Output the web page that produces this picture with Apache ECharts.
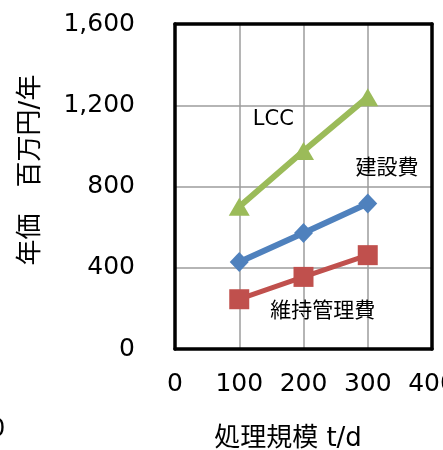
<!DOCTYPE html>
<html>
<head>
<meta charset="utf-8">
<script src="https://cdn.jsdelivr.net/npm/echarts@6/dist/echarts.min.js"></script>
<style>html,body{margin:0;padding:0;background:#fff;}#c{width:443px;height:450px;}</style>
</head>
<body>
<div id="c"></div>
<script>
// data
var scale = [100, 200, 300];                 // 処理規模 t/d
var lcc = [700, 975, 1240];                  // LCC
var construction = [428, 571, 716];          // 建設費
var maintenance = [245, 355, 462];           // 維持管理費
var xTicks = [0, 100, 200, 300, 400];
var yTicks = [0, 400, 800, 1200, 1600];
var seriesNames = ['LCC', '建設費', '維持管理費'];
var xTitle = '処理規模 t/d';
var yTitle = '年価　百万円/年';
var annotations = [
  {text: 'LCC', x: 153, y: 1132},
  {text: '建設費', x: 330, y: 890},
  {text: '維持管理費', x: 230, y: 182}
];

var FONT = "'DejaVu Sans', 'Noto Sans CJK JP', sans-serif";
function pairs(xs, ys) { return xs.map(function (x, i) { return [x, ys[i]]; }); }

var chart = echarts.init(document.getElementById('c'), null, {renderer: 'canvas'});
var borderLine = {show: true, onZero: false, lineStyle: {color: '#000', width: 3.5}};
var option = {
  animation: false,
  backgroundColor: '#fff',
  grid: {left: 175, right: 11, top: 24, bottom: 101, containLabel: false, outerBoundsMode: 'none'},
  xAxis: [{
    type: 'value', min: xTicks[0], max: xTicks[xTicks.length - 1], interval: 100,
    axisLine: borderLine, axisTick: {show: false},
    axisLabel: {color: '#000', fontSize: 25, fontFamily: FONT, margin: 23},
    splitLine: {show: true, lineStyle: {color: '#9d9d9d', width: 1.5}}
  }, {
    type: 'value', position: 'top', min: xTicks[0], max: xTicks[xTicks.length - 1], interval: 100,
    axisLine: borderLine, axisTick: {show: false}, axisLabel: {show: false}, splitLine: {show: false}, z: 5
  }],
  yAxis: [{
    type: 'value', min: yTicks[0], max: yTicks[yTicks.length - 1], interval: 400,
    axisLine: borderLine, axisTick: {show: false},
    axisLabel: {color: '#000', fontSize: 25, fontFamily: FONT, margin: 40,
      formatter: function (v) { return v.toLocaleString('en-US'); }},
    splitLine: {show: true, lineStyle: {color: '#9d9d9d', width: 1.5}}
  }, {
    type: 'value', position: 'right', min: yTicks[0], max: yTicks[yTicks.length - 1], interval: 400,
    axisLine: borderLine, axisTick: {show: false}, axisLabel: {show: false}, splitLine: {show: false}, z: 5
  }],
  series: [{
    name: seriesNames[0], type: 'line', data: pairs(scale, lcc),
    symbol: 'triangle', symbolSize: [21, 18],
    lineStyle: {color: '#9BBB59', width: 6}, itemStyle: {color: '#9BBB59'},
    markPoint: {
      symbol: 'circle', symbolSize: 1, itemStyle: {color: 'rgba(0,0,0,0)'},
      label: {show: true, position: 'inside', color: '#000', fontSize: 21, fontFamily: FONT,
        formatter: function (p) { return p.name; }},
      data: annotations.map(function (a) { return {name: a.text, coord: [a.x, a.y]}; })
    }
  }, {
    name: seriesNames[1], type: 'line', data: pairs(scale, construction),
    symbol: 'diamond', symbolSize: [19, 20],
    lineStyle: {color: '#4F81BD', width: 6}, itemStyle: {color: '#4F81BD'}
  }, {
    name: seriesNames[2], type: 'line', data: pairs(scale, maintenance),
    symbol: 'rect', symbolSize: 20,
    lineStyle: {color: '#C0504D', width: 5}, itemStyle: {color: '#C0504D'}
  }],
  graphic: [{
    type: 'text', x: 288, y: 439,
    style: {text: xTitle, fontSize: 26, fontFamily: FONT, fill: '#000', align: 'center', verticalAlign: 'middle'}
  }, {
    type: 'text', x: 31, y: 170, rotation: Math.PI / 2,
    style: {text: yTitle, fontSize: 26, fontFamily: FONT, fill: '#000', align: 'center', verticalAlign: 'middle'}
  }, {
    type: 'text', left: -10, top: 418,
    style: {text: '0', fontSize: 24, fontFamily: FONT, fill: '#000'}
  }]
};
chart.setOption(option);
</script>
</body>
</html>
